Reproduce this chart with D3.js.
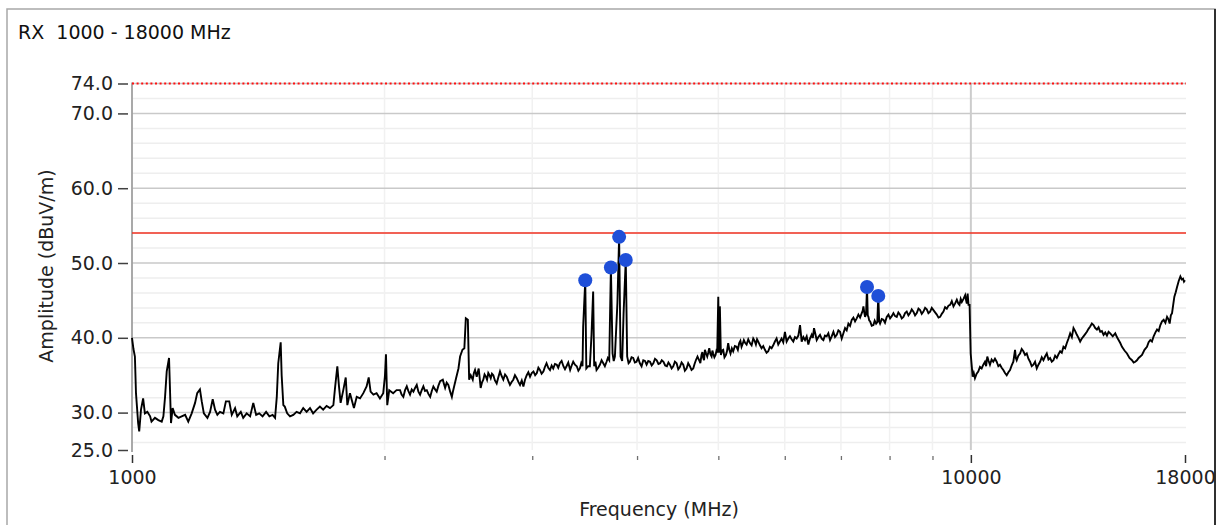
<!DOCTYPE html>
<html><head><meta charset="utf-8">
<script src="https://cdn.jsdelivr.net/npm/d3@7"></script>
<style>
html,body{margin:0;padding:0;background:#fff;}
svg{display:block;}
text{font-family:"DejaVu Sans",Verdana,sans-serif;}
</style>
</head><body>
<svg id="chart" width="1222" height="525"></svg>
<script>
const titleText = "RX  1000 - 18000 MHz";
const xLabelText = "Frequency (MHz)";
const yLabelText = "Amplitude (dBuV/m)";
const xDomain = [1000, 18000];
const yDomain = [25, 74];
const xTickLabels = [1000, 10000, 18000];
const xMinorTicks = [2000, 3000, 4000, 5000, 6000, 7000, 8000, 9000];
const yTickValues = [25, 30, 40, 50, 60, 70, 74];
const yMajorGrid = [30, 40, 50, 60, 70];
const yMinorGrid = [26, 28, 32, 34, 36, 38, 42, 44, 46, 48, 52, 54, 56, 58, 62, 64, 66, 68, 72];
const limitLine = 54;
const topLimit = 74;
const markerFreq = [3470, 3723, 3808, 3878, 7520, 7756];
const markerAmp = [47.7, 49.4, 53.5, 50.4, 46.8, 45.6];
const trace = [
[1000,40.0],[1004,38.5],[1008,37.5],[1011,32.6],[1017,28.6],[1020,27.5],[1025,30.4],[1031,31.9],[1036,29.9],[1043,30.1],
[1051,29.5],[1055,28.8],[1065,29.3],[1075,29.0],[1085,28.8],[1090,29.5],[1095,32.1],[1100,35.5],[1107,37.3],[1110,33.0],
[1113,28.6],[1118,30.6],[1125,29.7],[1136,29.3],[1146,29.5],[1157,29.7],[1167,28.8],[1178,29.9],[1189,31.3],[1196,32.6],
[1205,33.1],[1211,31.5],[1218,29.9],[1230,29.3],[1239,30.1],[1248,31.8],[1256,30.4],[1264,29.7],[1273,30.1],[1285,29.9],
[1294,31.5],[1306,31.5],[1315,29.7],[1327,30.6],[1335,29.5],[1348,30.1],[1357,29.3],[1370,29.9],[1383,29.5],[1395,31.3],
[1406,29.7],[1418,29.9],[1431,29.5],[1445,30.1],[1458,29.5],[1471,29.7],[1481,29.3],[1488,32.1],[1494,36.6],[1504,39.4],
[1508,35.0],[1515,31.0],[1521,30.8],[1531,29.9],[1543,29.5],[1557,29.7],[1571,30.1],[1586,29.9],[1600,30.6],[1615,30.1],
[1630,30.6],[1644,29.9],[1660,30.4],[1675,30.8],[1690,30.4],[1706,30.9],[1722,30.6],[1738,31.0],[1746,33.3],[1757,36.2],
[1765,33.5],[1773,31.3],[1786,33.0],[1798,34.7],[1806,31.0],[1819,32.6],[1828,31.7],[1839,30.6],[1853,32.1],[1870,31.9],
[1887,32.6],[1904,33.5],[1915,34.7],[1925,32.8],[1940,32.4],[1957,32.6],[1975,31.9],[1993,32.6],[2002,34.8],[2008,37.8],
[2015,31.0],[2026,33.0],[2048,32.6],[2067,33.0],
[2087,33.0],[2096,32.4],[2106,32.1],[2116,33.0],[2126,33.5],[2135,32.9],[2145,32.4],[2155,33.1],[2165,32.8],[2175,33.3],
[2185,33.7],[2195,32.8],[2205,32.4],[2215,33.0],[2225,33.5],[2235,32.9],[2246,33.0],[2256,32.5],[2267,32.1],[2277,32.9],
[2287,33.5],[2298,33.1],[2308,32.8],[2319,33.6],[2330,34.2],[2347,34.4],[2355,33.8],[2362,33.3],[2372,34.0],[2383,33.7],
[2395,32.8],[2406,32.1],[2414,32.9],[2421,33.5],[2434,34.6],[2450,35.9],[2461,37.5],[2477,38.4],[2490,38.6],[2500,42.6],
[2514,42.4],[2523,34.4],[2534,35.0],[2548,34.4],[2556,35.3],[2564,35.7],[2576,34.8],[2583,35.4],[2590,35.9],[2597,34.6],
[2604,33.3],[2613,34.0],[2623,34.4],[2632,35.1],[2642,34.8],[2650,34.4],[2659,35.3],[2668,35.0],[2677,34.6],[2686,35.2],
[2696,35.0],[2708,34.3],[2721,33.9],[2733,34.7],[2746,35.5],[2758,34.9],[2771,34.4],[2784,35.1],[2797,34.8],[2810,34.2],
[2822,33.7],[2835,34.1],[2848,34.4],[2861,35.0],[2875,34.6],[2888,34.1],[2901,33.7],[2915,34.3],[2928,33.5],[2941,34.4],
[2955,35.0],[2968,35.4],[2982,34.8],[2996,35.3],[3010,35.5],[3024,35.0],[3038,35.3],[3051,36.0],[3064,35.7],[3078,35.2],
[3093,35.5],[3106,36.1],[3120,36.6],[3135,36.0],[3150,35.7],[3164,36.3],[3178,35.9],[3193,36.5],[3209,36.4],[3222,36.0],
[3236,36.6],[3252,36.9],[3268,36.2],[3282,35.8],[3296,36.2],[3312,36.7],[3329,35.7],[3343,36.3],[3357,36.8],[3373,36.4],
[3390,36.2],[3405,35.6],[3419,35.9],[3432,36.6],[3444,36.2],[3450,41.5],[3470,47.7],[3480,35.9],[3498,36.2],[3514,36.2],
[3530,40.4],[3546,46.2],[3556,36.2],[3568,36.8],[3579,35.7],[3595,36.0],[3612,36.4],[3629,37.0],[3646,36.6],[3662,36.2],
[3679,36.8],[3692,37.3],[3706,37.0],[3714,42.8],[3723,49.4],[3740,37.9],[3752,36.9],[3764,37.5],[3790,44.6],[3808,53.5],
[3823,37.5],[3840,36.9],[3855,43.3],[3878,50.4],[3893,37.5],[3908,36.6],[3922,36.8],[3940,37.4],[3958,37.3],[3976,36.7],
[3994,36.8],[4012,37.3],[4031,36.6],[4050,36.2],[4069,37.0],[4088,36.9],[4106,36.4],[4125,36.9],[4145,36.8],[4164,36.3],
[4183,36.6],[4202,37.2],[4222,37.0],[4242,36.5],[4262,36.6],[4281,37.0],[4301,36.8],[4321,36.3],[4342,36.2],[4360,36.7],
[4378,36.4],[4398,35.9],[4418,36.2],[4438,36.8],[4459,36.6],[4479,35.8],[4499,36.1],[4520,36.7],[4541,36.4],[4561,35.6],
[4582,35.9],[4603,36.6],[4624,36.2],[4645,35.7],[4667,35.9],[4684,36.5],[4701,37.0],[4722,37.5],[4744,37.0],[4759,36.6],
[4774,37.7],[4786,38.1],[4797,37.3],[4808,37.0],[4819,38.4],[4835,37.9],[4850,37.5],[4863,38.0],[4877,38.6],[4892,37.8],
[4908,37.5],[4919,38.3],[4930,37.9],[4946,37.4],[4962,37.7],[4975,38.3],[4985,38.2],[4999,45.5],[5010,38.0],[5021,44.2],
[5035,37.7],[5051,38.3],[5067,38.4],[5085,37.4],[5104,37.7],[5120,38.2],[5137,39.3],[5153,38.4],[5170,37.9],[5189,38.6],
[5208,38.2],[5232,38.9],[5256,38.8],[5275,38.4],[5295,39.3],[5312,39.6],[5329,38.8],[5346,39.2],[5363,39.7],[5383,39.3],
[5403,39.1],[5428,39.8],[5453,39.3],[5478,39.0],[5503,39.9],[5523,39.6],[5543,39.1],[5561,39.8],[5579,39.5],[5605,39.0],
[5630,38.6],[5656,38.9],[5682,38.4],[5708,38.0],[5734,38.2],[5760,38.8],[5787,38.6],[5813,39.0],[5840,39.5],[5867,39.9],
[5894,39.1],[5921,39.5],[5948,39.9],[5975,39.4],[6003,40.8],[6031,39.5],[6058,39.9],[6086,40.2],[6114,39.8],[6142,39.5],
[6170,40.1],[6199,39.9],[6228,40.3],[6257,41.7],[6285,39.5],[6314,40.1],[6343,39.7],[6372,40.2],[6401,39.1],[6430,39.9],
[6460,40.4],[6480,40.0],[6502,41.3],[6526,40.5],[6550,39.7],[6580,40.1],[6610,40.4],[6640,39.9],[6671,39.7],[6700,40.3],
[6732,40.2],[6763,40.6],[6794,39.7],[6825,40.2],[6857,40.8],[6888,40.1],[6920,40.4],[6951,41.0],[6983,40.8],[7000,40.3],
[7015,39.9],[7048,40.6],[7080,41.3],[7112,41.0],[7145,41.9],[7178,41.6],[7211,42.4],[7244,42.7],[7277,42.2],[7310,42.6],
[7344,43.1],[7378,42.7],[7412,43.3],[7430,43.6],[7446,44.2],[7463,43.4],[7480,42.8],[7500,43.2],[7520,46.8],[7535,43.0],
[7549,42.8],[7566,42.3],[7584,42.2],[7618,41.6],[7653,41.7],[7680,42.3],[7710,41.9],[7735,42.1],[7756,45.6],[7775,42.2],
[7794,41.9],[7830,42.5],[7866,42.4],[7900,42.0],[7938,42.8],[7975,43.1],[8011,42.6],[8048,42.9],[8085,43.3],[8122,42.9],
[8159,42.8],[8196,43.4],[8234,43.1],[8272,42.6],[8310,42.8],[8348,43.3],[8386,43.5],[8425,43.0],[8463,43.3],[8502,43.8],
[8541,43.5],[8580,43.0],[8620,43.3],[8660,43.9],[8699,43.7],[8739,43.2],[8779,43.5],[8820,44.0],[8860,43.8],[8900,43.3],
[8942,43.5],[8983,44.0],[9024,43.7],[9065,43.4],[9107,43.1],[9150,42.7],[9191,42.8],[9233,43.2],[9275,43.5],[9318,44.1],
[9361,43.9],[9404,44.3],[9447,44.4],[9490,44.9],[9534,44.2],[9578,44.6],[9622,45.1],[9660,44.6],[9693,44.4],[9725,45.2],
[9755,44.8],[9800,45.2],[9845,45.7],[9870,45.0],[9890,44.6],[9912,45.9],[9935,44.4],[9965,44.4],[9995,37.9],
[10049,34.8],[10080,35.3],[10113,34.6],[10160,35.2],[10205,35.5],[10253,36.1],[10301,35.9],[10348,36.4],[10395,36.8],[10428,36.2],
[10461,37.5],[10500,36.9],[10538,36.4],[10586,37.1],[10634,36.8],[10684,37.2],[10734,36.8],[10783,36.2],[10833,36.4],[10882,36.0],
[10932,35.7],[10983,35.3],[11034,35.0],[11085,35.4],[11135,35.7],[11186,36.3],[11237,36.8],[11289,38.4],[11315,37.3],[11341,37.0],
[11393,37.6],[11445,37.9],[11497,38.5],[11550,38.2],[11604,37.7],[11658,37.9],[11711,37.2],[11764,36.8],[11818,36.2],[11872,36.4],
[11927,36.8],[11983,35.9],[12038,36.4],[12093,36.8],[12148,37.4],[12204,37.0],[12260,37.5],[12317,37.9],[12374,37.1],[12430,37.3],
[12487,36.8],[12544,37.0],[12602,37.6],[12661,37.3],[12719,37.8],[12777,38.2],[12835,38.0],[12894,38.8],[12954,38.6],[13014,39.3],
[13074,39.9],[13133,40.6],[13194,40.1],[13254,41.3],[13316,40.9],[13377,40.4],[13438,40.0],[13499,39.5],[13561,39.9],[13623,40.2],
[13686,40.5],[13750,40.8],[13813,41.2],[13876,41.5],[13940,41.9],[14004,41.7],[14069,41.3],[14134,41.1],[14198,41.4],[14263,40.8],
[14328,40.9],[14394,40.4],[14461,40.7],[14528,40.3],[14594,40.8],[14661,40.6],[14762,40.2],[14864,40.6],[14932,40.1],[15000,39.7],
[15070,39.3],[15141,38.8],[15245,38.3],[15350,37.9],[15456,37.3],[15562,37.0],[15633,36.7],[15704,36.8],[15776,37.0],[15848,37.3],
[15922,37.5],[15996,37.7],[16106,38.4],[16216,38.8],[16290,39.4],[16365,39.7],[16440,39.5],[16515,40.2],[16592,40.7],[16670,41.1],
[16746,40.9],[16823,41.7],[16900,42.2],[16977,42.4],[17056,42.0],[17135,42.8],[17196,42.5],[17258,41.9],[17314,43.0],[17371,43.3],
[17426,44.4],[17482,45.5],[17547,46.1],[17612,46.8],[17692,47.6],[17773,48.2],[17840,47.8],[17904,47.9],[17950,47.5],[18000,47.7]
];

const svg = d3.select("#chart");
const FS = 19;
const x = d3.scaleLog().domain(xDomain).range([132, 1185]);
const y = d3.scaleLinear().domain(yDomain).range([450, 83.5]);
const [x0, x1] = x.range();

// frame
svg.append("rect").attr("x", 7).attr("y", 9).attr("width", 1208).attr("height", 700)
  .attr("fill", "none").attr("stroke", "#a8a8a8").attr("stroke-width", 1.5);
svg.append("line").attr("x1", 1215).attr("x2", 1215).attr("y1", 9).attr("y2", 525)
  .attr("stroke", "#303030").attr("stroke-width", 2);

// title
svg.append("text").attr("x", 18).attr("y", 39).attr("font-size", FS).attr("fill", "#111")
  .style("white-space", "pre").text(titleText);

const grid = svg.append("g");
grid.selectAll(".hmin").data(yMinorGrid).join("line")
  .attr("x1", x0).attr("x2", x1 + 1).attr("y1", d => y(d)).attr("y2", d => y(d))
  .attr("stroke", "#eeeeee").attr("stroke-width", 1.5);
grid.selectAll(".vmin").data(xMinorTicks).join("line")
  .attr("x1", d => x(d)).attr("x2", d => x(d)).attr("y1", y(topLimit)).attr("y2", y(yDomain[0]))
  .attr("stroke", "#f1f1f1").attr("stroke-width", 1.5);
grid.selectAll(".hmaj").data(yMajorGrid.concat([topLimit])).join("line")
  .attr("x1", x0).attr("x2", x1 + 1).attr("y1", d => y(d)).attr("y2", d => y(d))
  .attr("stroke", "#c9c9c9").attr("stroke-width", 1.5);
grid.append("line").attr("x1", x(10000)).attr("x2", x(10000)).attr("y1", y(topLimit)).attr("y2", y(yDomain[0]))
  .attr("stroke", "#cccccc").attr("stroke-width", 2);

// y axis line
svg.append("line").attr("x1", x0).attr("x2", x0).attr("y1", y(topLimit) - 1).attr("y2", 452)
  .attr("stroke", "#a0a0a0").attr("stroke-width", 1.8);

// y axis ticks & labels
const yAxis = svg.append("g").attr("transform", "translate(128,0)")
  .call(d3.axisLeft(y).tickValues(yTickValues).tickFormat(d3.format(".1f")).tickSize(10).tickPadding(5));
yAxis.select(".domain").remove();
yAxis.selectAll("line").attr("stroke", "#404040").attr("stroke-width", 1.5);
yAxis.selectAll("text").attr("font-size", FS).attr("font-family", "DejaVu Sans").attr("fill", "#222");

// x axis major ticks & labels
const xAxis = svg.append("g").attr("transform", "translate(0,455)")
  .call(d3.axisBottom(x).tickValues(xTickLabels).tickFormat(d3.format("d")).tickSize(8).tickPadding(8));
xAxis.select(".domain").remove();
xAxis.selectAll("line").attr("stroke", "#303030").attr("stroke-width", 1.5);
xAxis.selectAll("text").attr("font-size", FS).attr("font-family", "DejaVu Sans").attr("fill", "#222");
const xMinor = svg.append("g").attr("transform", "translate(0,456)")
  .call(d3.axisBottom(x).tickValues(xMinorTicks).tickFormat("").tickSize(4));
xMinor.select(".domain").remove();
xMinor.selectAll("line").attr("stroke", "#707070").attr("stroke-width", 1.3);

// axis titles
svg.append("text").attr("x", 659).attr("y", 516).attr("text-anchor", "middle")
  .attr("font-size", FS).attr("fill", "#222").text(xLabelText);
svg.append("text").attr("transform", "translate(53,266) rotate(-90)").attr("text-anchor", "middle")
  .attr("font-size", FS).attr("fill", "#222").text(yLabelText);

// limit lines
svg.append("line").attr("x1", x0).attr("x2", x1 + 1).attr("y1", y(limitLine)).attr("y2", y(limitLine))
  .attr("stroke", "#f03020").attr("stroke-width", 1.5);
svg.append("line").attr("x1", x0).attr("x2", x1 + 1).attr("y1", y(topLimit)).attr("y2", y(topLimit))
  .attr("stroke", "#ff1010").attr("stroke-width", 2).attr("stroke-dasharray", "2,2.6");

// trace
const line = d3.line().x(d => x(d[0])).y(d => y(d[1]));
svg.append("path").datum(trace).attr("d", line)
  .attr("fill", "none").attr("stroke", "#000").attr("stroke-width", 1.9).attr("stroke-linejoin", "miter");

// markers
svg.selectAll(".mk").data(markerFreq.map((f, i) => [f, markerAmp[i]])).join("circle")
  .attr("cx", d => x(d[0])).attr("cy", d => y(d[1])).attr("r", 7)
  .attr("fill", "#1f4fd8");
</script>
</body></html>
